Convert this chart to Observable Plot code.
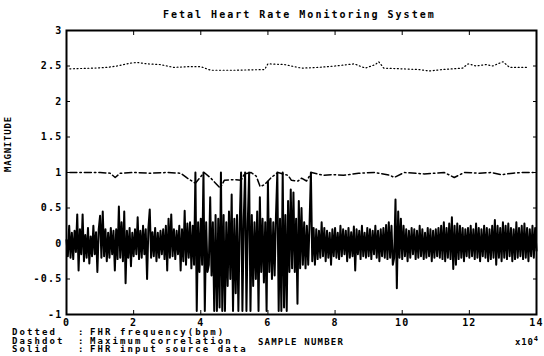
<!DOCTYPE html>
<html><head><meta charset="utf-8">
<script src="https://cdn.jsdelivr.net/npm/d3@7"></script>
<script src="https://cdn.jsdelivr.net/npm/@observablehq/plot@0.6"></script>
<style>
body{margin:0;background:#fff;}
#wrap{position:relative;width:544px;height:356px;overflow:hidden;font-family:"DejaVu Sans Mono",monospace;font-weight:bold;color:#000;}
#chart{position:absolute;left:0;top:0;}
.t{position:absolute;white-space:pre;font-size:10px;letter-spacing:1.6px;line-height:10px;}
.l{position:absolute;white-space:pre;font-size:9px;letter-spacing:2.1px;line-height:8px;}
</style></head><body>
<div id="wrap">
<div id="chart"></div>
<div class="t" style="left:163px;top:10px;letter-spacing:2px;">Fetal Heart Rate Monitoring System</div>
<div class="l" style="left:12px;top:328px;">Dotted</div>
<div class="l" style="left:78px;top:328px;">:</div>
<div class="l" style="left:90px;top:328px;">FHR frequency(bpm)</div>
<div class="l" style="left:12px;top:336.5px;">Dashdot</div>
<div class="l" style="left:78px;top:336.5px;">:</div>
<div class="l" style="left:90px;top:336.5px;">Maximum correlation</div>
<div class="l" style="left:12px;top:345px;">Solid</div>
<div class="l" style="left:78px;top:345px;">:</div>
<div class="l" style="left:90px;top:345px;">FHR input source data</div>
<div class="l" id="xlab" style="left:258px;top:338px;letter-spacing:1.2px;"></div>
<div class="l" style="left:515px;top:338px;letter-spacing:0.8px;">x10<span style="font-size:7px;position:relative;top:-4px;">4</span></div>
<div class="l" id="ylab" style="left:8px;top:172px;letter-spacing:0.8px;transform:translate(0,-50%) rotate(-90deg);transform-origin:0 50%;"></div>
</div>
<script>
// ---------- data ----------
const xTicks = [0, 2, 4, 6, 8, 10, 12, 14];
const yTicks = [-1, -0.5, 0, 0.5, 1, 1.5, 2, 2.5, 3];
const xLabel = "SAMPLE NUMBER";
const yLabel = "MAGNITUDE";

// solid: FHR input source data, evenly spaced samples over 0..14 (x10^4)
const solidValues = [
  0.05,-0.18,0.25,-0.2,0.15,-0.22,0.18,-0.12,0.41,-0.38,0.2,-0.15,0.41,-0.25,0.12,-0.2,0.22,-0.28,0.1,-0.18,0.25,-0.15,0.16,-0.4,0.2,
  0.39,-0.2,0.45,-0.18,0.2,-0.25,0.15,-0.2,0.22,-0.15,0.18,-0.38,0.2,-0.22,0.52,-0.2,0.3,-0.25,0.45,-0.56,0.18,-0.2,0.22,-0.32,0.15,
  -0.18,0.2,-0.15,0.37,-0.22,0.18,-0.2,0.25,-0.15,0.2,-0.5,0.22,0.48,-0.2,0.16,-0.18,0.22,-0.25,0.15,-0.2,0.18,-0.15,0.2,-0.22,0.25,
  -0.38,0.35,-0.2,0.41,-0.18,0.2,-0.22,0.18,-0.15,0.25,-0.38,0.2,-0.25,0.46,-0.3,0.28,-0.2,0.3,-0.35,0.25,-0.3,1.0,-0.95,0.3,-0.4,
  0.35,-0.3,1.0,-0.95,0.3,-0.4,-0.3,0.65,-0.45,0.3,-0.95,0.4,-0.95,0.35,-0.9,1.0,-0.95,0.4,-0.95,0.3,-0.6,0.45,-0.5,0.69,-0.95,
  0.35,-0.7,0.4,-0.95,0.3,1.0,-0.95,0.35,1.0,-0.95,0.3,1.0,-0.95,0.4,-0.6,0.3,-0.5,0.45,-0.95,0.65,-0.4,0.35,-0.55,0.3,-0.95,
  0.87,-0.4,0.35,-0.5,0.3,-0.45,0.4,1.0,-0.95,0.35,-0.95,1.0,-0.9,0.4,-0.95,0.6,-0.4,0.76,-0.35,0.72,-0.4,0.35,-0.85,0.6,-0.35,
  0.5,-0.3,0.3,-0.35,0.25,-0.3,0.28,1.0,-0.25,0.22,-0.3,0.2,-0.22,0.18,-0.2,0.3,-0.18,0.22,-0.25,0.18,-0.2,0.15,-0.3,0.2,-0.18,
  0.22,-0.2,0.15,-0.22,0.25,-0.18,0.2,-0.15,0.18,-0.25,0.22,-0.2,0.16,-0.18,0.24,-0.38,0.2,-0.15,0.18,-0.22,0.25,-0.18,0.15,-0.2,0.22,
  -0.18,0.2,-0.22,0.18,-0.15,0.25,-0.2,0.18,-0.25,0.2,-0.18,0.22,-0.2,0.26,-0.22,0.3,-0.2,0.25,-0.3,-0.2,0.62,-0.63,0.45,-0.2,0.35,
  -0.22,0.25,-0.18,0.2,-0.25,0.18,-0.2,0.22,-0.15,0.2,-0.22,0.18,-0.2,0.25,-0.18,0.2,-0.22,0.15,-0.2,0.22,-0.18,0.2,-0.25,0.18,-0.2,
  0.2,-0.18,0.22,-0.2,0.25,-0.22,0.3,-0.25,0.22,-0.2,0.28,-0.22,0.37,-0.36,0.25,-0.3,0.28,-0.22,0.25,-0.2,0.22,-0.25,0.2,-0.18,0.22,
  -0.2,0.25,-0.18,0.2,-0.22,0.28,-0.2,0.22,-0.25,0.2,-0.18,0.25,-0.2,0.22,-0.25,0.2,-0.22,0.25,-0.2,0.33,-0.3,0.25,-0.2,0.22,-0.25,
  0.3,-0.2,0.25,-0.22,0.28,-0.18,0.22,-0.25,0.2,-0.22,0.3,-0.2,0.22,-0.18,0.25,-0.22,0.28,-0.2,0.22,-0.25,0.2,-0.18,0.25,-0.2,0.22,
  -0.1
];
const solidSpan = [0, 14];

// dashdot: maximum correlation
const dashX = [0.1,0.5,1.0,1.3,1.45,1.6,2.0,2.5,3.0,3.4,3.6,3.8,3.84,4.1,4.3,4.58,4.7,5.0,5.2,5.3,5.5,5.65,5.77,5.9,6.1,6.3,6.45,6.6,6.7,6.9,7.0,7.15,7.3,7.65,7.95,8.25,8.7,9.2,9.64,9.76,10.06,10.65,11.25,11.55,11.85,12.3,12.65,12.95,13.3,13.55,13.9];
const dashY = [1.0,1.0,1.0,0.99,0.93,0.99,1.0,0.99,1.0,0.99,0.92,0.86,0.85,1.0,0.92,0.78,0.89,0.9,0.89,0.98,1.0,0.95,0.8,0.83,0.93,1.0,0.98,0.96,0.89,0.88,0.92,0.88,1.0,0.96,0.97,0.96,0.99,1.0,0.96,0.93,1.0,0.98,1.0,0.93,1.0,0.99,1.0,0.97,0.99,1.0,1.0];

// dotted: FHR frequency
const dotX = [0.1,0.8,1.2,1.5,1.9,2.1,2.4,2.8,3.2,3.6,4.0,4.3,5.0,5.9,6.0,6.5,7.0,7.5,8.0,8.57,8.9,9.2,9.3,9.45,10.0,10.5,10.8,11.2,11.5,11.8,11.96,12.2,12.5,12.7,13.0,13.2,13.75];
const dotY = [2.46,2.47,2.48,2.5,2.54,2.55,2.53,2.52,2.48,2.49,2.49,2.44,2.44,2.45,2.53,2.52,2.47,2.48,2.5,2.53,2.47,2.52,2.56,2.47,2.46,2.45,2.43,2.45,2.46,2.47,2.53,2.5,2.52,2.5,2.56,2.48,2.48];

// ---------- build ----------
const step = (solidSpan[1] - solidSpan[0]) / (solidValues.length - 1);
const solid = solidValues.map((v, i) => ({x: solidSpan[0] + i * step, y: v}));
const dash = dashX.map((x, i) => ({x, y: dashY[i]}));
const dots = dotX.map((x, i) => ({x, y: dotY[i]}));
const fmt = d => String(d);

document.getElementById("xlab").textContent = xLabel;
document.getElementById("ylab").textContent = yLabel;

const chart = Plot.plot({
  width: 544,
  height: 356,
  marginLeft: 66,
  marginRight: 8,
  marginTop: 30,
  marginBottom: 42,
  x: {domain: [0, 14], label: null},
  y: {domain: [-1, 3], label: null},
  style: {fontFamily: "DejaVu Sans Mono", fontWeight: "bold", fontSize: "10px", letterSpacing: "1.2px", background: "transparent", overflow: "visible"},
  marks: [
    Plot.line(solid, {x: "x", y: "y", stroke: "#000", strokeWidth: 2}),
    Plot.line(dash, {x: "x", y: "y", stroke: "#000", strokeWidth: 1.5, strokeDasharray: "7,3,1.5,3"}),
    Plot.line(dots, {x: "x", y: "y", stroke: "#000", strokeWidth: 1.2, strokeDasharray: "1,2.6"}),
    Plot.frame({stroke: "#000", strokeWidth: 2}),
    Plot.axisX(xTicks, {anchor: "bottom", tickSize: -4, tickPadding: 8, tickFormat: fmt, label: null}),
    Plot.axisX(xTicks, {anchor: "top", tickSize: -4, tickFormat: () => "", label: null}),
    Plot.axisY(yTicks, {anchor: "left", tickSize: -4, tickPadding: 8, tickFormat: fmt, label: null}),
    Plot.axisY(yTicks, {anchor: "right", tickSize: -4, tickFormat: () => "", label: null})
  ]
});
document.getElementById("chart").appendChild(chart);
</script>
</body></html>
